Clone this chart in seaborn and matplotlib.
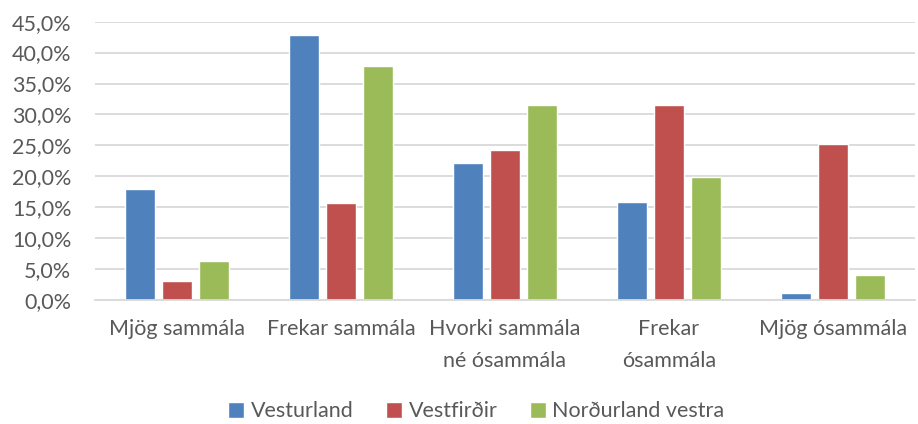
import pandas as pd
import numpy as np
import matplotlib
matplotlib.use('Agg')
import matplotlib.pyplot as plt
from matplotlib.ticker import FuncFormatter, MultipleLocator
import seaborn as sns

# --- Data (in %) ---
categories = ['Mjög sammála', 'Frekar sammála', 'Hvorki sammála\nné ósammála',
              'Frekar\nósammála', 'Mjög ósammála']
regions = ['Vesturland', 'Vestfirðir', 'Norðurland vestra']
vesturland = [17.9, 42.8, 22.1, 15.8, 1.2]
vestfirdir = [3.1, 15.7, 24.2, 31.5, 25.2]
nordurland_vestra = [6.3, 37.9, 31.5, 19.9, 4.1]
colors = ['#4F81BD', '#C0504D', '#9BBB59']

df = pd.DataFrame({
    'flokkur': categories * 3,
    'svaedi': [r for r in regions for _ in categories],
    'hlutfall': vesturland + vestfirdir + nordurland_vestra,
})

sns.set_style('white')
plt.rcParams['font.family'] = ['Lato', 'DejaVu Sans']
text_col = '#595959'
fs = 15.5

fig = plt.figure(figsize=(9.18, 4.24), dpi=100)
ax = fig.add_axes([0.1035, 0.2925, 0.8932, 0.6564])

sns.barplot(data=df, x='flokkur', y='hlutfall', hue='svaedi', order=categories,
            hue_order=regions, palette=colors, width=0.68, gap=0.18,
            saturation=1, ax=ax, legend=True)

ax.set_ylim(0, 45)
ax.set_xlim(-0.5, 4.5)
ax.yaxis.set_major_locator(MultipleLocator(5))
ax.yaxis.set_major_formatter(FuncFormatter(lambda v, p: f'{v:.1f}%'.replace('.', ',')))
ax.grid(axis='y', color='#d9d9d9', linewidth=1.3)
ax.set_axisbelow(True)
for s in ['top', 'right', 'left']:
    ax.spines[s].set_visible(False)
ax.spines['bottom'].set_color('#d9d9d9')
ax.spines['bottom'].set_linewidth(1.3)
ax.tick_params(axis='both', length=0, labelsize=fs, colors=text_col)
ax.tick_params(axis='x', pad=14)
ax.tick_params(axis='y', pad=17)
for lbl in ax.get_xticklabels():
    lbl.set_linespacing(1.7)
ax.set_xlabel('')
ax.set_ylabel('')

handles, labels = ax.get_legend_handles_labels()
ax.legend(handles, labels, loc='center', bbox_to_anchor=(0.465, -0.40), ncol=3,
          frameon=False, fontsize=fs, labelcolor=text_col, handlelength=0.75,
          handleheight=0.75, handletextpad=0.3, columnspacing=1.5)

fig.savefig('out.png', dpi=100, facecolor='white')
